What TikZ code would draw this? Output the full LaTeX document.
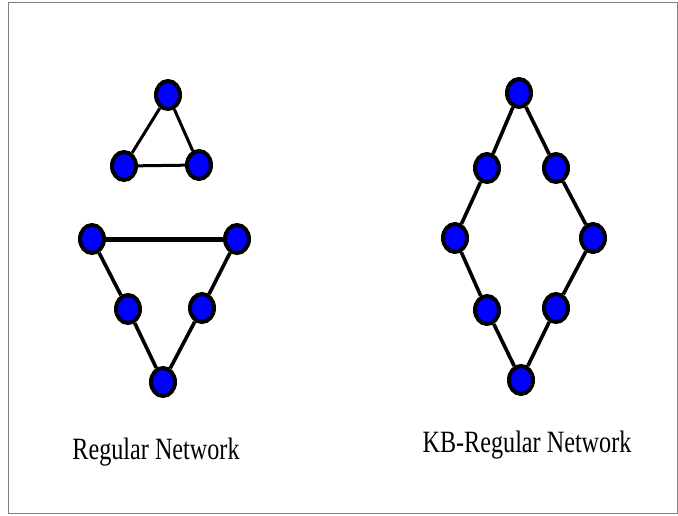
\documentclass[tikz,border=0pt]{standalone}
\usepackage{fontspec}
\setmainfont{Liberation Serif}
\usetikzlibrary{shapes.geometric, positioning}
\definecolor{vxblue}{HTML}{0000FF}
\definecolor{framegray}{HTML}{808080}
\tikzset{
  vtx/.style={ellipse, draw=black, fill=vxblue, line width=4pt,
              minimum width=24pt, minimum height=28pt, inner sep=0pt},
  link/.style={draw=black, line width=3.6pt},
  netlbl/.style={font=\fontsize{31}{34}\selectfont, xscale=0.78, inner sep=0pt},
}

\begin{document}
\begin{tikzpicture}[x=1pt, y=-1pt]
      \useasboundingbox (0,0) rectangle (678,515);
      \draw[framegray, line width=1pt] (8,2.5) rectangle (677.5,513);
      % small triangle
      \node[vtx] (t1) at (168,95) {};
      \node[vtx] (t2) at (124,166) {};
      \node[vtx] (t3) at (199,165) {};
      % large triangle
      \node[vtx] (a1) at (92,239) {};
      \node[vtx] (a2) at (237,239) {};
      \node[vtx] (a3) at (128,309) {};
      \node[vtx] (a4) at (202,308) {};
      \node[vtx] (a5) at (163,382) {};
      % ring of eight
      \node[vtx] (k1) at (519,93) {};
      \node[vtx] (k2) at (487,168) {};
      \node[vtx] (k3) at (556,168) {};
      \node[vtx] (k4) at (455,238) {};
      \node[vtx] (k5) at (593,238) {};
      \node[vtx] (k6) at (487,310) {};
      \node[vtx] (k7) at (556,308) {};
      \node[vtx] (k8) at (521,380) {};
      \draw[link, line width=3pt] (t1) -- (t2) (t2) -- (t3) (t3) -- (t1);
      \draw[link, line width=5pt] (a1) -- (a2);
      \draw[link] (a1) -- (a3) (a3) -- (a5) (a5) -- (a4) (a4) -- (a2);
      \draw[link] (k1) -- (k2) (k2) -- (k4) (k4) -- (k6) (k6) -- (k8)
                  (k8) -- (k7) (k7) -- (k5) (k5) -- (k3) (k3) -- (k1);
      \node[netlbl] (lreg) at (156,452) {Regular Network};
      \node[netlbl] (lkb) at (527,445) {KB-Regular Network};
    \end{tikzpicture}
\end{document}
